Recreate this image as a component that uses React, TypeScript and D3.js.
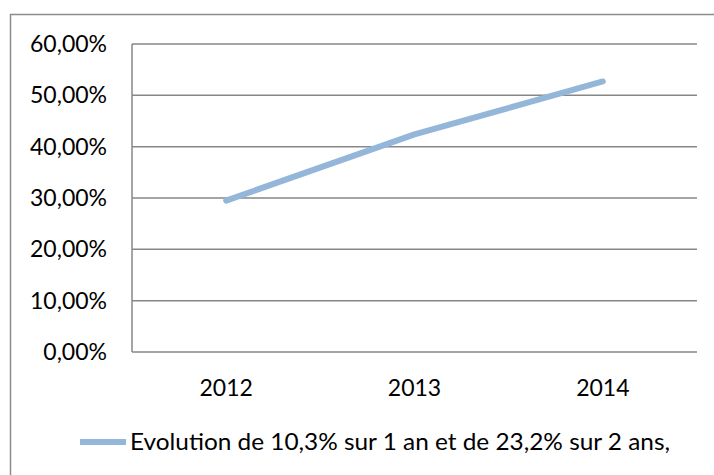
import React, { useEffect, useRef } from 'react';
import * as d3 from 'd3';

// chart data
const years = ['2012', '2013', '2014'];
const values = [29.5, 42.4, 52.7];
const yTicks = [0, 10, 20, 30, 40, 50, 60];
const legendLabel = 'Evolution de 10,3% sur 1 an et de 23,2% sur 2 ans,';

const width = 714;
const height = 475;
const font = 'Lato, "Open Sans", sans-serif';

export default function App() {
  const ref = useRef<SVGSVGElement>(null);

  useEffect(() => {
    const svg = d3.select(ref.current);
    svg.selectAll('*').remove();

    // outer chart border (cut off at right and bottom)
    svg
      .append('rect')
      .attr('x', 10.5)
      .attr('y', 14.5)
      .attr('width', 720)
      .attr('height', 480)
      .attr('fill', 'none')
      .attr('stroke', '#8c8c8c')
      .attr('stroke-width', 1.5);

    const margin = { top: 44, left: 132, right: 17, bottom: 123 };
    const graphWidth = width - margin.left - margin.right;
    const graphHeight = height - margin.top - margin.bottom;

    const graph = svg
      .append('g')
      .attr('transform', `translate(${margin.left}, ${margin.top})`);

    const x = d3.scaleBand().domain(years).range([0, graphWidth]);
    const y = d3.scaleLinear().domain([0, 60]).range([graphHeight, 0]);

    // gridlines
    graph
      .selectAll('line.grid')
      .data(yTicks)
      .enter()
      .append('line')
      .attr('class', 'grid')
      .attr('x1', 0)
      .attr('x2', graphWidth)
      .attr('y1', d => y(d))
      .attr('y2', d => y(d))
      .attr('stroke', '#878787')
      .attr('stroke-width', 1.5);

    // vertical axis line
    graph
      .append('line')
      .attr('x1', 0)
      .attr('x2', 0)
      .attr('y1', 0)
      .attr('y2', graphHeight)
      .attr('stroke', '#878787')
      .attr('stroke-width', 1.5);

    // y labels
    graph
      .selectAll('text.ylab')
      .data(yTicks)
      .enter()
      .append('text')
      .attr('class', 'ylab')
      .attr('x', -25)
      .attr('y', d => y(d))
      .attr('dy', '0.35em')
      .attr('text-anchor', 'end')
      .attr('font-family', font)
      .attr('font-size', 23)
      .attr('fill', '#000')
      .text(d => d.toFixed(2).replace('.', ',') + '%');

    // x labels
    graph
      .selectAll('text.xlab')
      .data(years)
      .enter()
      .append('text')
      .attr('class', 'xlab')
      .attr('x', d => (x(d) as number) + x.bandwidth() / 2)
      .attr('y', graphHeight + 44)
      .attr('text-anchor', 'middle')
      .attr('font-family', font)
      .attr('font-size', 23)
      .attr('fill', '#000')
      .text(d => d);

    // series line
    const line = d3
      .line<number>()
      .x((d, i) => (x(years[i]) as number) + x.bandwidth() / 2)
      .y(d => y(d));

    graph
      .append('path')
      .datum(values)
      .attr('d', line)
      .attr('fill', 'none')
      .attr('stroke', '#93b6d9')
      .attr('stroke-width', 6)
      .attr('stroke-linecap', 'round')
      .attr('stroke-linejoin', 'round');

    // legend
    const legend = svg.append('g').attr('transform', 'translate(0, 442)');
    legend
      .append('line')
      .attr('x1', 80)
      .attr('x2', 126)
      .attr('y1', 0)
      .attr('y2', 0)
      .attr('stroke', '#93b6d9')
      .attr('stroke-width', 6);
    legend
      .append('text')
      .attr('x', 130)
      .attr('y', 0)
      .attr('dy', '0.35em')
      .attr('font-family', font)
      .attr('font-size', 23)
      .attr('textLength', 540)
      .attr('lengthAdjust', 'spacingAndGlyphs')
      .attr('fill', '#000')
      .text(legendLabel);
  }, []);

  return (
    <svg
      ref={ref}
      width={width}
      height={height}
      style={{ position: 'absolute', left: 0, top: 0, background: '#fff' }}
    />
  );
}
